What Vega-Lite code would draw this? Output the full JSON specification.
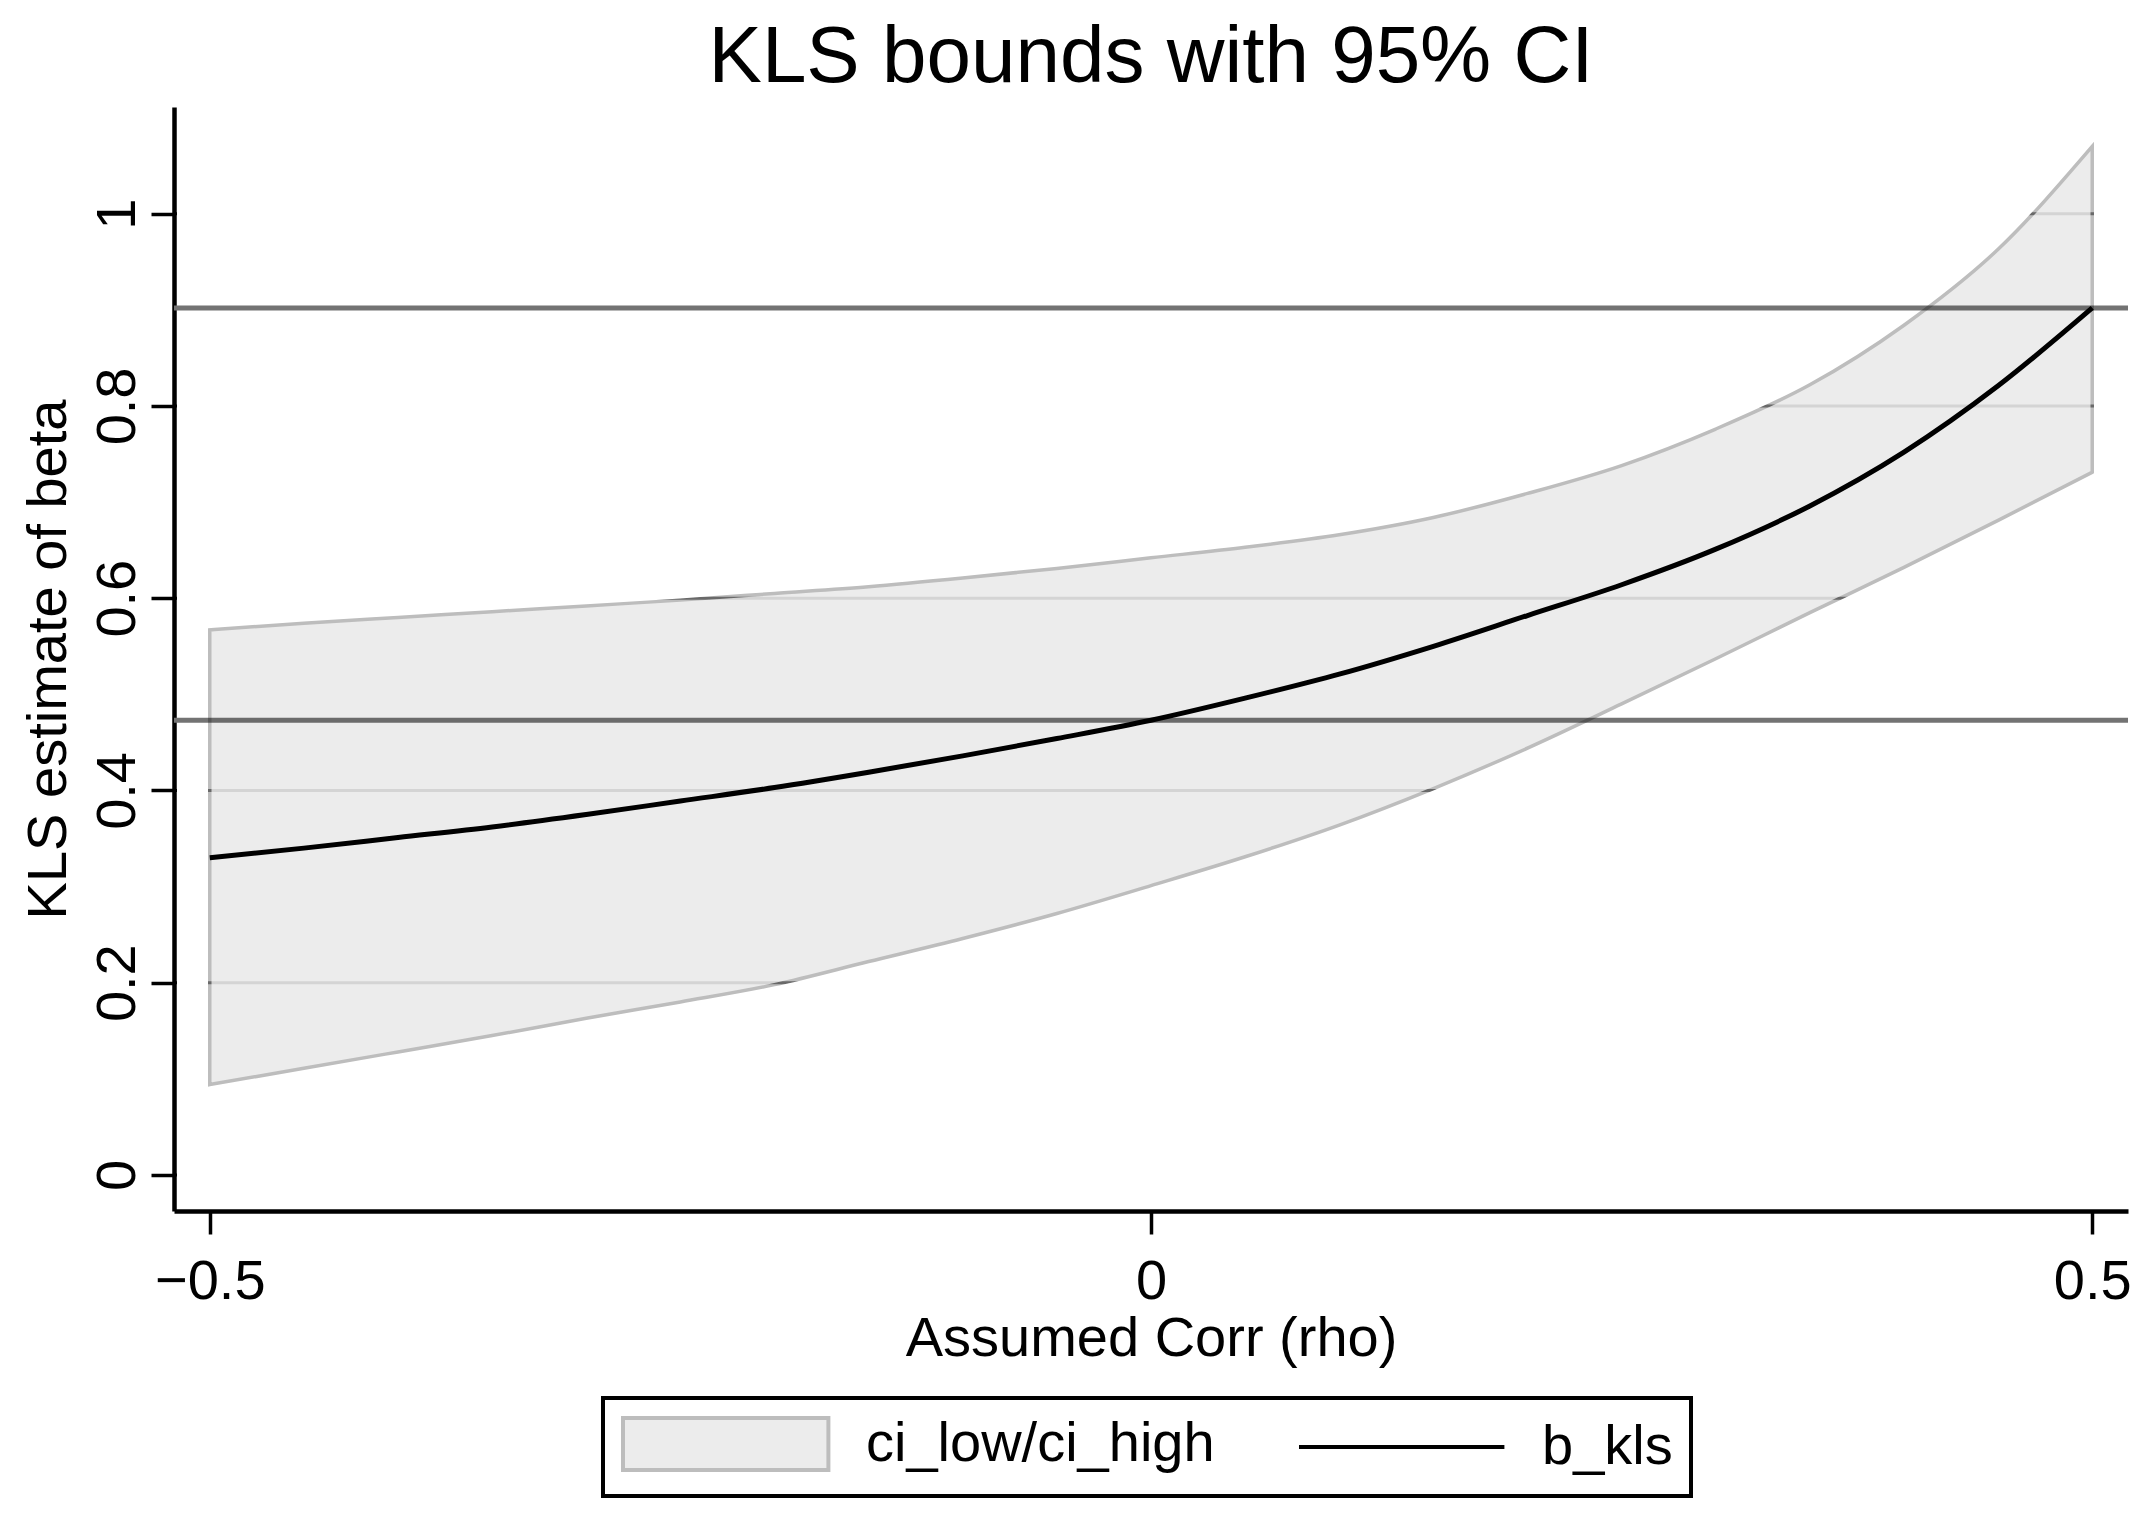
{
  "$schema": "https://vega.github.io/schema/vega-lite/v6.json",
  "width": 1954,
  "height": 1104,
  "autosize": {"type": "none"},
  "padding": {"left": 174, "top": 107, "right": 25, "bottom": 320},
  "background": "white",
  "config": {
    "font": "Liberation Sans",
    "view": {"stroke": null, "fill": "white"},
    "legend": {"strokeWidth": 4}
  },
  "title": {
    "text": "KLS bounds with 95% CI",
    "fontSize": 80,
    "fontWeight": "normal",
    "color": "black",
    "anchor": "middle",
    "frame": "group",
    "offset": 8
  },
  "datasets": {
    "kls": [
      {"rho": -0.50, "b_kls": 0.330, "ci_low": 0.094, "ci_high": 0.567},
      {"rho": -0.45, "b_kls": 0.340, "ci_low": 0.111, "ci_high": 0.574},
      {"rho": -0.40, "b_kls": 0.351, "ci_low": 0.128, "ci_high": 0.580},
      {"rho": -0.35, "b_kls": 0.362, "ci_low": 0.145, "ci_high": 0.586},
      {"rho": -0.30, "b_kls": 0.375, "ci_low": 0.163, "ci_high": 0.592},
      {"rho": -0.25, "b_kls": 0.389, "ci_low": 0.180, "ci_high": 0.598},
      {"rho": -0.20, "b_kls": 0.403, "ci_low": 0.198, "ci_high": 0.605},
      {"rho": -0.15, "b_kls": 0.419, "ci_low": 0.222, "ci_high": 0.612},
      {"rho": -0.10, "b_kls": 0.436, "ci_low": 0.246, "ci_high": 0.621},
      {"rho": -0.05, "b_kls": 0.454, "ci_low": 0.272, "ci_high": 0.631},
      {"rho": 0.00, "b_kls": 0.473, "ci_low": 0.301, "ci_high": 0.642},
      {"rho": 0.05, "b_kls": 0.496, "ci_low": 0.331, "ci_high": 0.653},
      {"rho": 0.10, "b_kls": 0.521, "ci_low": 0.364, "ci_high": 0.666},
      {"rho": 0.15, "b_kls": 0.550, "ci_low": 0.402, "ci_high": 0.684},
      {"rho": 0.20, "b_kls": 0.582, "ci_low": 0.444, "ci_high": 0.709},
      {"rho": 0.25, "b_kls": 0.614, "ci_low": 0.490, "ci_high": 0.738},
      {"rho": 0.30, "b_kls": 0.651, "ci_low": 0.537, "ci_high": 0.776},
      {"rho": 0.35, "b_kls": 0.696, "ci_low": 0.585, "ci_high": 0.822},
      {"rho": 0.40, "b_kls": 0.752, "ci_low": 0.632, "ci_high": 0.884},
      {"rho": 0.45, "b_kls": 0.821, "ci_low": 0.681, "ci_high": 0.963},
      {"rho": 0.50, "b_kls": 0.902, "ci_low": 0.731, "ci_high": 1.070}
    ],
    "refs": [{"v": 0.473}, {"v": 0.902}],
    "grid": [{"g": 0}, {"g": 0.2}, {"g": 0.4}, {"g": 0.6}, {"g": 0.8}, {"g": 1.0}]
  },
  "layer": [
    {
      "data": {"name": "refs"},
      "mark": {"type": "rule", "color": "#737373", "strokeWidth": 5},
      "encoding": {
        "y": {"field": "v", "type": "quantitative", "title": "KLS estimate of beta",
              "scale": {"domain": [-0.0375, 1.111], "nice": false, "zero": false}}
      }
    },
    {
      "data": {"name": "kls"},
      "mark": {"type": "area", "interpolate": "monotone", "blend": "multiply", "fill": "#ececec", "stroke": "#bdbdbd", "strokeWidth": 3.5},
      "encoding": {
        "x": {
          "field": "rho", "type": "quantitative", "title": "Assumed Corr (rho)",
          "scale": {"domain": [-0.519, 0.519], "nice": false, "zero": false},
          "axis": {
            "values": [-0.5, 0, 0.5], "format": ".1~f", "grid": false,
            "domainColor": "black", "domainWidth": 4.5,
            "tickColor": "black", "tickWidth": 3.5, "tickSize": 23,
            "labelFontSize": 56, "labelColor": "black", "labelPadding": 20,
            "labelFlush": false, "labelOverlap": false,
            "titleFontSize": 56, "titleFontWeight": "normal", "titleColor": "black", "titlePadding": 2
          }
        },
        "y": {
          "field": "ci_low", "type": "quantitative", "title": "KLS estimate of beta",
          "scale": {"domain": [-0.0375, 1.111], "nice": false, "zero": false},
          "axis": {
            "values": [0, 0.2, 0.4, 0.6, 0.8, 1], "format": ".1~f", "grid": false,
            "domainColor": "black", "domainWidth": 4.5,
            "tickColor": "black", "tickWidth": 3.5, "tickSize": 23,
            "labelFontSize": 56, "labelColor": "black", "labelPadding": 17,
            "labelAngle": -90, "labelAlign": "center", "labelBaseline": "alphabetic",
            "labelOverlap": false, "labelFlush": false,
            "titleFontSize": 56, "titleFontWeight": "normal", "titleColor": "black", "titlePadding": 12
          }
        },
        "y2": {"field": "ci_high"}
      }
    },
    {
      "data": {"name": "grid"},
      "mark": {"type": "rule", "color": "#707070", "strokeWidth": 3, "blend": "color-burn"},
      "encoding": {
        "y": {"field": "g", "type": "quantitative", "title": "KLS estimate of beta"}
      }
    },
    {
      "data": {"name": "kls"},
      "mark": {"type": "line", "interpolate": "monotone", "strokeWidth": 5, "color": "#000000"},
      "encoding": {
        "x": {"field": "rho", "type": "quantitative", "title": "Assumed Corr (rho)"},
        "y": {"field": "b_kls", "type": "quantitative", "title": "KLS estimate of beta"}
      }
    },
    {
      "data": {"values": []},
      "mark": {"type": "point", "opacity": 1},
      "encoding": {
        "fill": {
          "field": "s", "type": "nominal",
          "scale": {"domain": ["ci_low/ci_high", "b_kls"], "range": ["#ececec", "#000000"]},
          "legend": {
            "title": null, "orient": "none", "legendX": 429, "legendY": 1291,
            "direction": "horizontal", "symbolSize": 2704, "symbolStrokeWidth": 4,
            "labelFontSize": 56, "labelColor": "black", "labelLimit": 2000,
            "labelOffset": 189, "columnPadding": 76, "padding": 18, "strokeColor": "black"
          }
        },
        "stroke": {
          "field": "s", "type": "nominal",
          "scale": {"domain": ["ci_low/ci_high", "b_kls"], "range": ["#bdbdbd", "#000000"]},
          "legend": {
            "title": null, "orient": "none", "legendX": 429, "legendY": 1291,
            "direction": "horizontal", "symbolSize": 2704, "symbolStrokeWidth": 4,
            "labelFontSize": 56, "labelColor": "black", "labelLimit": 2000,
            "labelOffset": 189, "columnPadding": 76, "padding": 18, "strokeColor": "black"
          }
        },
        "shape": {
          "field": "s", "type": "nominal",
          "scale": {"domain": ["ci_low/ci_high", "b_kls"], "range": ["M-1,-1L6.9,-1L6.9,1L-1,1Z", "M-1,0L6.9,0"]},
          "legend": {
            "title": null, "orient": "none", "legendX": 429, "legendY": 1291,
            "direction": "horizontal", "symbolSize": 2704, "symbolStrokeWidth": 4,
            "labelFontSize": 56, "labelColor": "black", "labelLimit": 2000,
            "labelOffset": 189, "columnPadding": 76, "padding": 18, "strokeColor": "black"
          }
        }
      }
    }
  ]
}
